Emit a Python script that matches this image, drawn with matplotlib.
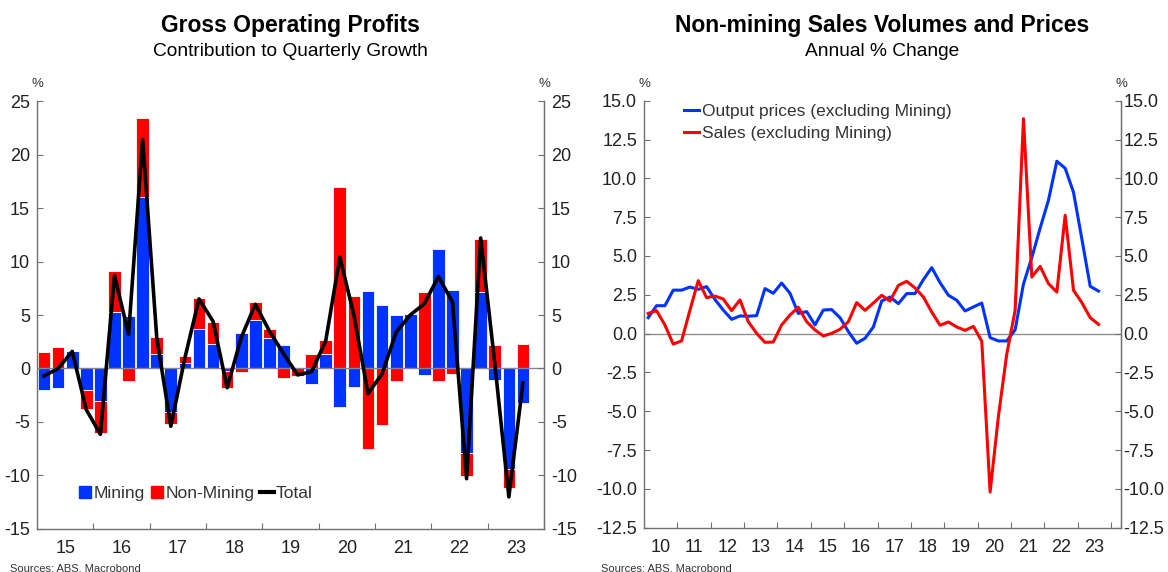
import numpy as np
import pandas as pd
import matplotlib
matplotlib.use('Agg')
import matplotlib.pyplot as plt
from matplotlib.lines import Line2D

plt.rcParams['font.family'] = ['Liberation Sans', 'DejaVu Sans']
plt.rcParams['axes.unicode_minus'] = False

# data: gross operating profits, contribution to q/q growth (ppt), 2015Q1 - 2023Q3
gop_quarters = pd.period_range('2015Q1', '2023Q3', freq='Q')
mining = [-2.05, -1.86, 1.68, -2.05, -3.05, 5.25, 4.9, 16.0, 1.37, -4.1,
          0.47, 3.73, 2.33, -0.28, 3.35, 4.53, 2.83, 2.24, 0.0, -1.46,
          1.4, -3.58, -1.71, 7.24, 5.96, 4.97, 5.12, -0.62, 11.18, 7.3,
          -7.94, 7.14, -1.09, -9.38, -3.2]
non_mining = [1.5, 2.05, 0.0, -1.75, -2.95, 3.85, -1.18, 7.4, 1.55, -1.1,
              0.71, 2.87, 2.05, -1.55, -0.34, 1.67, 0.9, -0.87, -0.72, 1.34,
              1.24, 17.0, 6.74, -7.5, -5.26, -1.15, 0.1, 7.17, -1.21, -0.53,
              -2.12, 5.0, 2.2, -1.77, 2.27]
total = [-0.7, 0.0, 1.6, -3.85, -6.15, 8.7, 3.2, 21.4, 2.9, -5.4,
         1.0, 6.5, 4.4, -1.8, 2.9, 6.0, 3.5, 1.4, -0.6, -0.3,
         2.6, 10.4, 5.0, -2.35, -0.5, 3.4, 5.0, 6.05, 8.6, 6.2,
         -10.3, 12.2, 0.5, -12.0, -1.35]

# data: non-mining sales volumes and output prices, annual % change, 2010Q1 - 2023Q3
sales_quarters = pd.period_range('2010Q1', '2023Q3', freq='Q')
output_prices = [1.03, 1.8, 1.8, 2.8, 2.8, 3.0, 2.85, 3.03, 2.2, 1.52,
                 0.92, 1.14, 1.12, 1.16, 2.9, 2.6, 3.26, 2.6, 1.3, 1.42,
                 0.56, 1.52, 1.55, 1.03, 0.13, -0.62, -0.3, 0.43, 2.1, 2.36,
                 1.93, 2.58, 2.58, 3.48, 4.25, 3.28, 2.47, 2.15, 1.46, 1.72,
                 1.97, -0.26, -0.47, -0.47, 0.25, 3.2, 4.9, 6.8, 8.6, 11.1,
                 10.65, 9.1, 6.1, 3.05, 2.74]
sales = [1.3, 1.48, 0.56, -0.67, -0.47, 1.5, 3.41, 2.32, 2.42, 2.23,
         1.48, 2.17, 0.77, 0.02, -0.56, -0.54, 0.56, 1.2, 1.7, 0.77,
         0.24, -0.15, 0.02, 0.28, 0.77, 2.0, 1.5, 1.97, 2.47, 2.1,
         3.11, 3.37, 2.94, 2.36, 1.39, 0.54, 0.75, 0.43, 0.21, 0.47,
         -0.49, -10.2, -5.3, -1.3, 1.5, 13.84, 3.65, 4.33, 3.22, 2.68,
         7.62, 2.79, 2.0, 1.03, 0.6]

BLUE = '#0033ff'
RED = '#ff0000'
SPINE = '#707070'
TXT = '#222222'


def quarter_x(periods):
	return np.array([p.year + (p.quarter - 0.5) / 4 for p in periods])


def style_axis(ax, first_year, last_year, right_pad=5):
	ax.spines['top'].set_visible(False)
	for s in ['left', 'right', 'bottom']:
		ax.spines[s].set_color(SPINE)
		ax.spines[s].set_linewidth(1.0)
	ax.set_xticks(np.arange(first_year + 1, last_year + 1))
	ax.set_xticklabels([])
	ax.set_xticks(np.arange(first_year, last_year) + 0.5, minor=True)
	ax.set_xticklabels([str(y)[2:] for y in range(first_year, last_year)], minor=True)
	ax.tick_params(axis='x', which='major', direction='in', length=4, color=SPINE)
	ax.tick_params(axis='x', which='minor', length=0, pad=8, labelsize=13, labelcolor=TXT)
	ax.tick_params(axis='y', direction='in', length=4, color=SPINE, left=True, right=False,
				   labelleft=True, labelright=False, labelsize=13, labelcolor=TXT, pad=5)
	# right hand labels on a twin so they get their own padding
	axr = ax.twinx()
	axr.set_ylim(ax.get_ylim())
	axr.set_yticks(ax.get_yticks())
	axr.yaxis.set_major_formatter(ax.yaxis.get_major_formatter())
	for s in ['top', 'left', 'bottom']:
		axr.spines[s].set_visible(False)
	axr.spines['right'].set_color(SPINE)
	axr.tick_params(axis='y', direction='in', length=4, color=SPINE, labelsize=13,
					labelcolor=TXT, pad=right_pad)
	return axr


fig = plt.figure(figsize=(11.68, 5.72), dpi=100)

# left: gross operating profits
ax1 = fig.add_axes([0.0317, 0.0752, 0.4341, 0.7482])
x1 = quarter_x(gop_quarters)
m = np.array(mining)
n = np.array(non_mining)
n_bottom = np.where(n >= 0, np.where(m > 0, m, 0), np.where(m < 0, m, 0))
ax1.bar(x1, m, width=0.225, color=BLUE, edgecolor='white', linewidth=0.6, zorder=2)
ax1.bar(x1, n, bottom=n_bottom, width=0.225, color=RED, edgecolor='white', linewidth=0.6, zorder=2)
ax1.axhline(0, color='#8a7fa0', linewidth=1.0, zorder=2.5)
ax1.plot(x1, total, color='black', linewidth=2.6, zorder=3)
ax1.set_xlim(2015, 2024)
ax1.set_ylim(-15, 25)
ax1.set_yticks(np.arange(-15, 26, 5))
style_axis(ax1, 2015, 2024, right_pad=5)
handles = [Line2D([], [], marker='s', ls='none', color=BLUE, markersize=9),
		   Line2D([], [], marker='s', ls='none', color=RED, markersize=9),
		   Line2D([], [], color='black', linewidth=3)]
ax1.legend(handles, ['Mining', 'Non-Mining', 'Total'], loc='center left',
		   bbox_to_anchor=(0.05, 0.082), ncol=3, frameon=False, fontsize=12.5,
		   handlelength=0.8, handletextpad=0.1, columnspacing=0.3, labelcolor='#333333')
ax1.text(0.0, 1.025, '%', transform=ax1.transAxes, ha='center', va='bottom', fontsize=9.5, color='#333333')
ax1.text(1.0, 1.025, '%', transform=ax1.transAxes, ha='center', va='bottom', fontsize=9.5, color='#333333')

# right: sales volumes and prices
ax2 = fig.add_axes([0.5514, 0.0773, 0.4084, 0.7467])
x2 = quarter_x(sales_quarters)
ax2.axhline(0, color='#909090', linewidth=1.0, zorder=1)
ax2.plot(x2, output_prices, color=BLUE, linewidth=2.2, zorder=3, label='Output prices (excluding Mining)')
ax2.plot(x2, sales, color=RED, linewidth=2.2, zorder=3, label='Sales (excluding Mining)')
ax2.set_xlim(2010, 2024.3)
ax2.set_ylim(-12.5, 15)
ax2.set_yticks(np.arange(-12.5, 15.1, 2.5))
ax2.yaxis.set_major_formatter(matplotlib.ticker.FormatStrFormatter('%.1f'))
style_axis(ax2, 2010, 2024, right_pad=1.5)
ax2.legend(loc='upper left', bbox_to_anchor=(0.05, 1.03), frameon=False, fontsize=12.5,
		   handlelength=0.9, handletextpad=0.15, labelspacing=0.42, labelcolor='#333333')
ax2.text(0.0, 1.025, '%', transform=ax2.transAxes, ha='center', va='bottom', fontsize=9.5, color='#333333')
ax2.text(1.0, 1.025, '%', transform=ax2.transAxes, ha='center', va='bottom', fontsize=9.5, color='#333333')

# titles
fig.text(0.2487, 0.955, 'Gross Operating Profits', ha='center', va='center', fontsize=16.5, fontweight='bold')
fig.text(0.2487, 0.910, 'Contribution to Quarterly Growth', ha='center', va='center', fontsize=13.8)
fig.text(0.7556, 0.955, 'Non-mining Sales Volumes and Prices', ha='center', va='center', fontsize=16.5, fontweight='bold')
fig.text(0.7556, 0.910, 'Annual % Change', ha='center', va='center', fontsize=13.8)
fig.text(0.0086, 0.006, 'Sources: ABS, Macrobond', ha='left', va='center', fontsize=8, color='#333333')
fig.text(0.5146, 0.006, 'Sources: ABS, Macrobond', ha='left', va='center', fontsize=8, color='#333333')

fig.savefig('out.png', dpi=100)
